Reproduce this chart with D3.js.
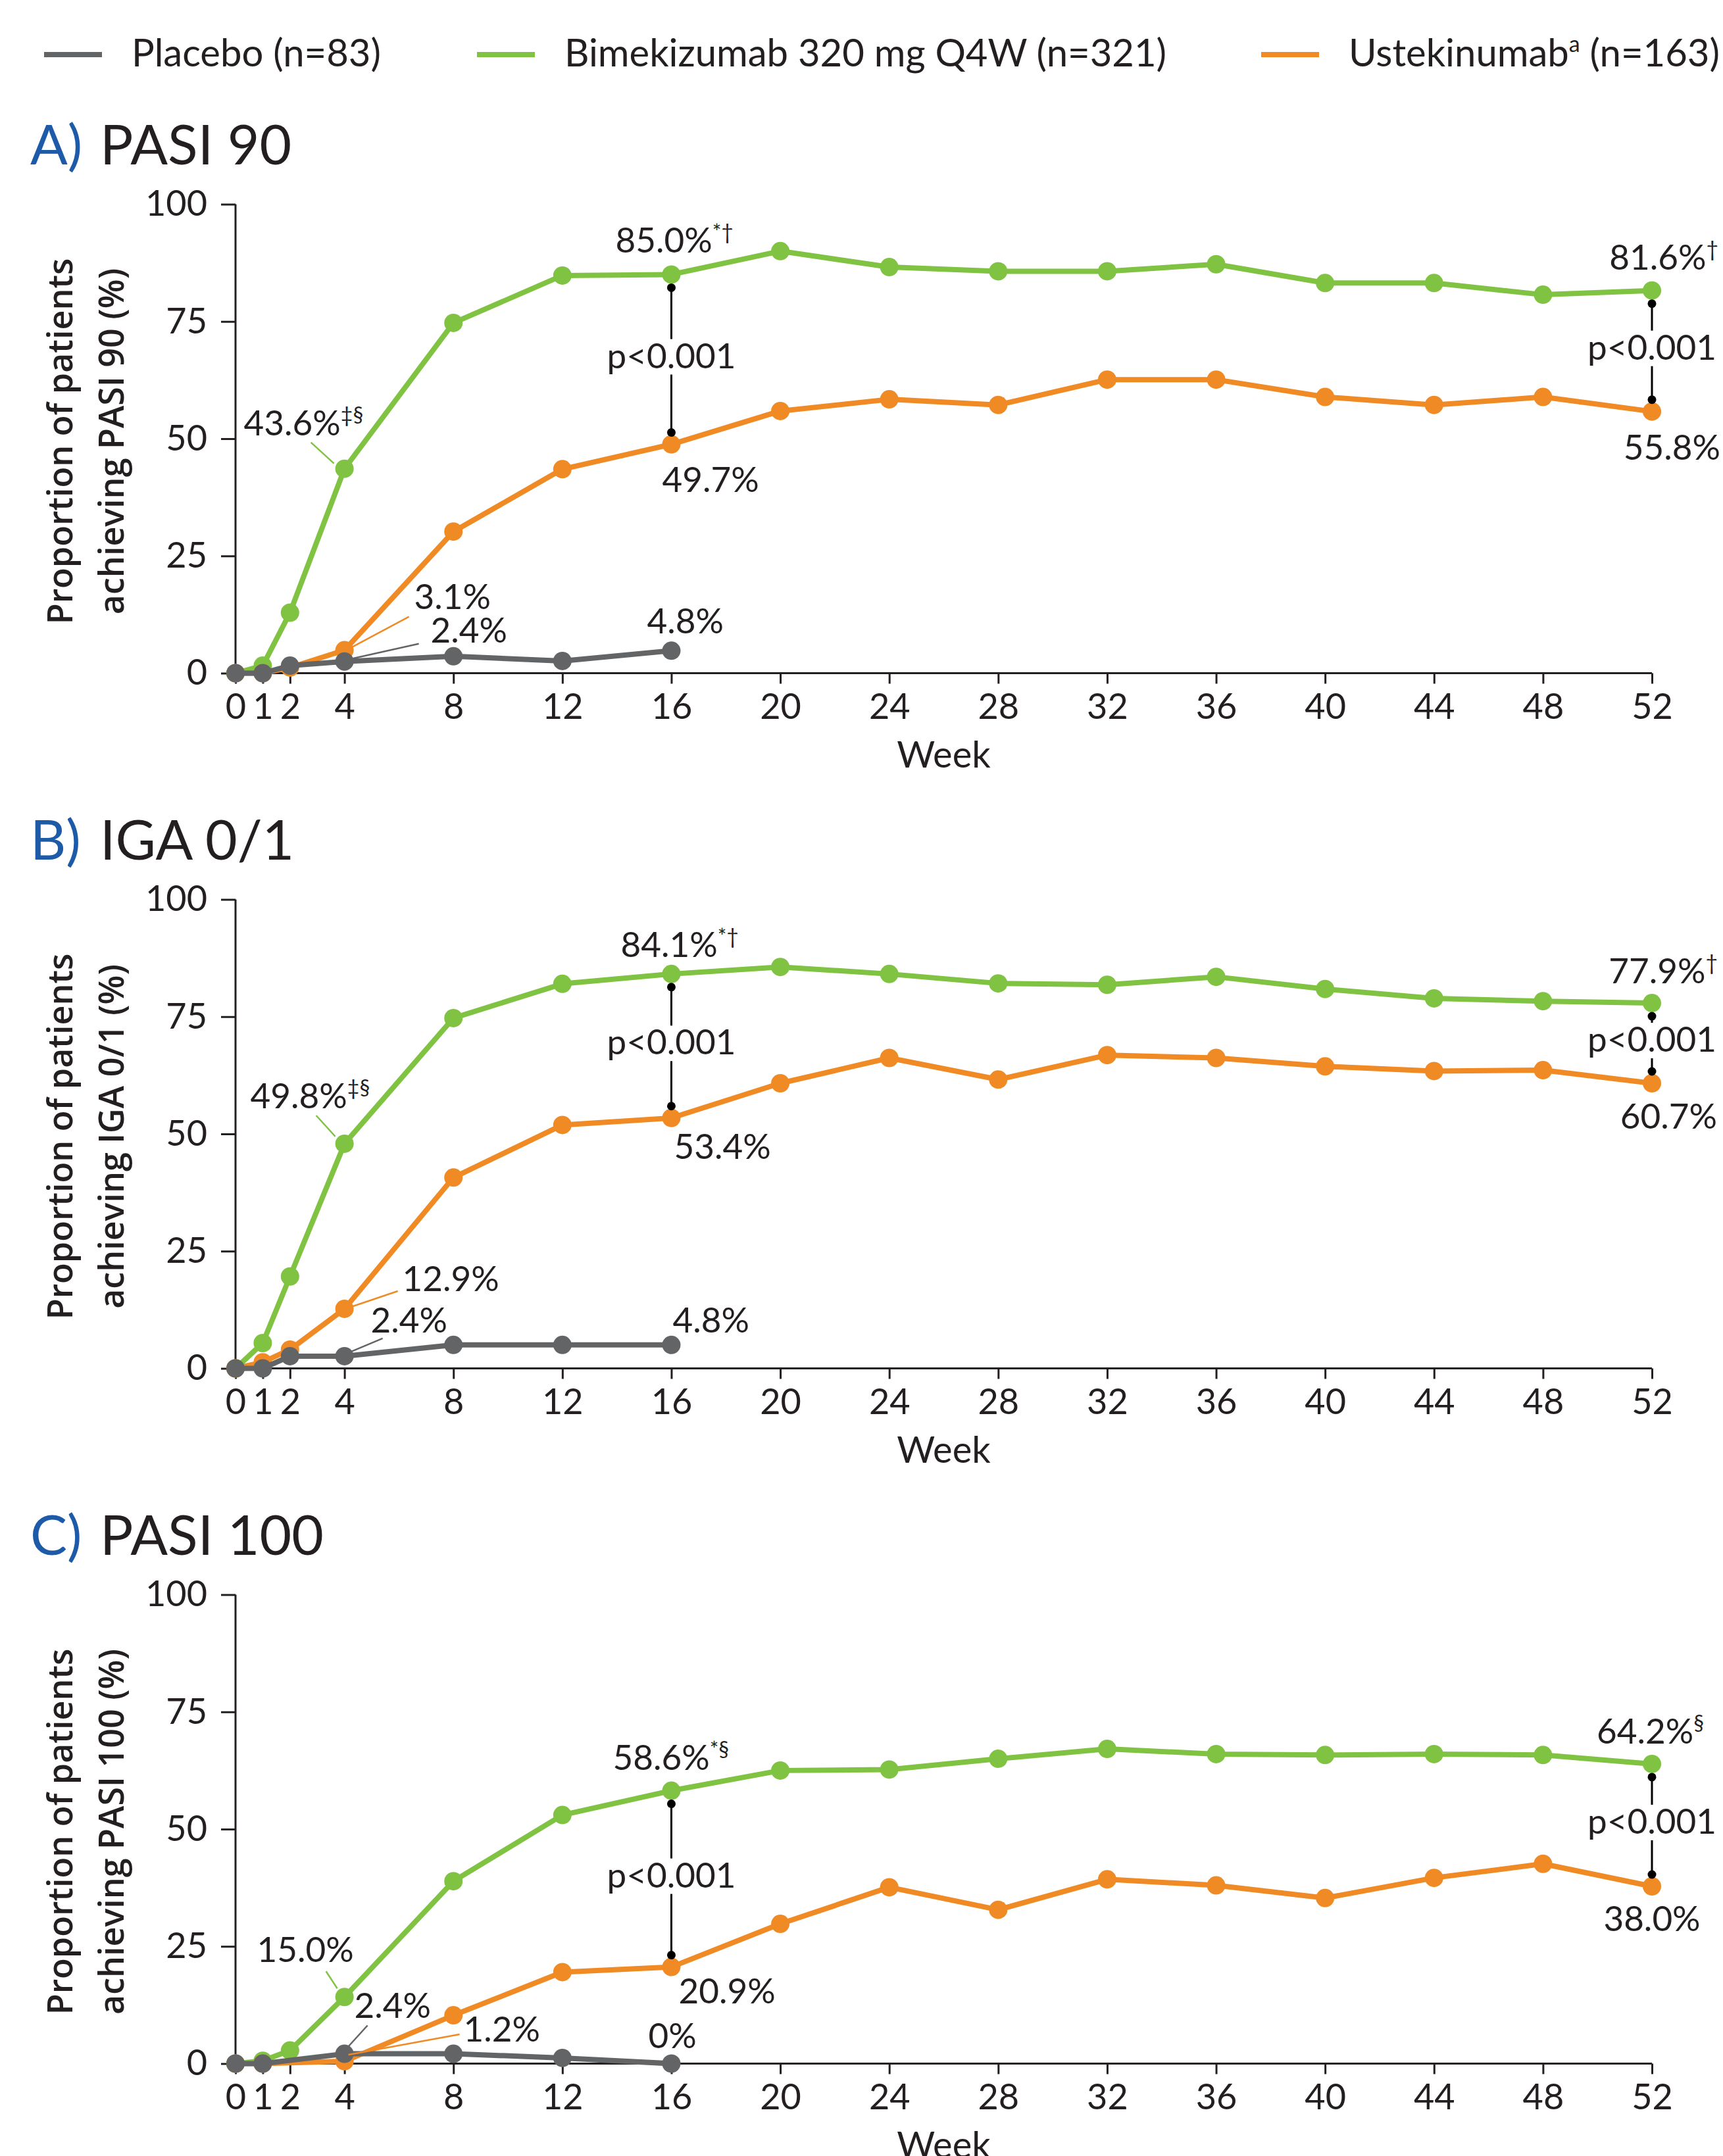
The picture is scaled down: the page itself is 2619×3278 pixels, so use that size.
<!DOCTYPE html>
<html>
<head>
<meta charset="utf-8">
<script src="https://cdn.jsdelivr.net/npm/d3@7/dist/d3.min.js"></script>
<style>
  body { margin: 0; background: #fff; }
  svg { display: block; font-family: Lato, 'Open Sans', sans-serif; }
</style>
</head>
<body>
<div id="chart"></div>
<script>
const weeks = [0, 1, 2, 4, 8, 12, 16, 20, 24, 28, 32, 36, 40, 44, 48, 52];
const yTicks = [0, 25, 50, 75, 100];

// Placebo only runs to week 16; null = no visit plotted
const pasi90Placebo = [0, 0, 1.6, 2.5, 3.6, 2.6, 4.8];
const pasi90Bime = [0, 1.6, 12.9, 43.6, 74.7, 84.8, 85.0, 90.0, 86.6, 85.7, 85.7, 87.2, 83.2, 83.2, 80.7, 81.6];
const pasi90Uste = [0, 0, 1.2, 4.9, 30.2, 43.5, 48.8, 55.9, 58.4, 57.2, 62.6, 62.6, 58.9, 57.2, 58.9, 55.8];

const igaPlacebo = [0, 0, 2.6, 2.6, 5.0, 5.0, 5.0];
const igaBime = [0, 5.4, 19.6, 47.9, 74.7, 82.0, 84.1, 85.6, 84.1, 82.1, 81.8, 83.5, 80.9, 78.9, 78.3, 77.9];
const igaUste = [0, 1.3, 4.0, 12.7, 40.7, 51.9, 53.4, 60.8, 66.2, 61.6, 66.8, 66.2, 64.4, 63.4, 63.6, 60.8];

const pasi100Placebo = [0, 0, null, 2.1, 2.1, 1.2, 0];
const pasi100Bime = [0, 0.6, 2.8, 14.2, 38.9, 53.0, 58.2, 62.5, 62.7, 65.0, 67.1, 66.0, 65.8, 66.0, 65.8, 63.9];
const pasi100Uste = [0, 0, null, 0.5, 10.3, 19.5, 20.6, 29.8, 37.6, 32.8, 39.3, 38.0, 35.3, 39.6, 42.6, 37.8];

const legendLabels = ['Placebo (n=83)', 'Bimekizumab 320 mg Q4W (n=321)', 'Ustekinumab'];

const colors = { placebo: '#636466', bime: '#80c342', uste: '#f08a24' };
const ink = '#231f20';

const W = 2619, H = 3278;
const x0 = 358, x1 = 2511;
const panelTop = 310.5, plotH = 713, panelStep = 1057;

// annotation layout: offsets are relative to the marker they describe
const panels = [
  {
    letter: 'A)', title: 'PASI 90', yLabel: ['Proportion of patients', 'achieving PASI 90 (%)'],
    data: { bime: pasi90Bime, uste: pasi90Uste, placebo: pasi90Placebo },
    notes: [
      { s: 'bime', w: 4, t: '43.6%', sup: '‡§', dx: -153, dy: -51, leader: [-51, -40, -16, -8] },
      { s: 'uste', w: 4, t: '3.1%', dx: 106, dy: -63, leader: [98, -51, 10, -4] },
      { s: 'placebo', w: 4, t: '2.4%', dx: 131, dy: -29, leader: [113, -27, 10, -4] },
      { s: 'bime', w: 16, t: '85.0%', sup: '*†', dx: -85, dy: -33 },
      { s: 'uste', w: 16, t: '49.7%', dx: -14, dy: 72 },
      { s: 'placebo', w: 16, t: '4.8%', dx: -37, dy: -26 },
      { s: 'bime', w: 52, t: '81.6%', sup: '†', dx: 101, dy: -32, anchor: 'end' },
      { s: 'uste', w: 52, t: '55.8%', dx: 104, dy: 73, anchor: 'end' }
    ],
    pvals: [16, 52]
  },
  {
    letter: 'B)', title: 'IGA 0/1', yLabel: ['Proportion of patients', 'achieving IGA 0/1 (%)'],
    data: { bime: igaBime, uste: igaUste, placebo: igaPlacebo },
    notes: [
      { s: 'bime', w: 4, t: '49.8%', sup: '‡§', dx: -143, dy: -54, leader: [-43, -43, -14, -11] },
      { s: 'uste', w: 4, t: '12.9%', dx: 88, dy: -27, leader: [81, -27, 10, -3] },
      { s: 'placebo', w: 4, t: '2.4%', dx: 40, dy: -36, leader: [58, -27, 8, -6] },
      { s: 'bime', w: 16, t: '84.1%', sup: '*†', dx: -77, dy: -26 },
      { s: 'uste', w: 16, t: '53.4%', dx: 4, dy: 62 },
      { s: 'placebo', w: 16, t: '4.8%', dx: 2, dy: -19 },
      { s: 'bime', w: 52, t: '77.9%', sup: '†', dx: 100, dy: -30, anchor: 'end' },
      { s: 'uste', w: 52, t: '60.7%', dx: 99, dy: 69, anchor: 'end' }
    ],
    pvals: [16, 52]
  },
  {
    letter: 'C)', title: 'PASI 100', yLabel: ['Proportion of patients', 'achieving PASI 100 (%)'],
    data: { bime: pasi100Bime, uste: pasi100Uste, placebo: pasi100Placebo },
    notes: [
      { s: 'bime', w: 4, t: '15.0%', dx: -133, dy: -53, leader: [-28, -39, -11, -13] },
      { s: 'placebo', w: 4, t: '2.4%', dx: 15, dy: -55, leader: [35, -43, 5, -10] },
      { s: 'uste', w: 4, t: '1.2%', dx: 181, dy: -30, leader: [175, -41, 6, -10] },
      { s: 'bime', w: 16, t: '58.6%', sup: '*§', dx: -89, dy: -32 },
      { s: 'uste', w: 16, t: '20.9%', dx: 11, dy: 55 },
      { s: 'placebo', w: 16, t: '0%', dx: -35, dy: -24 },
      { s: 'bime', w: 52, t: '64.2%', sup: '§', dx: -84, dy: -31 },
      { s: 'uste', w: 52, t: '38.0%', dx: 0, dy: 68, anchor: 'middle' }
    ],
    pvals: [16, 52]
  }
];

const svg = d3.select('#chart').append('svg')
  .attr('width', W).attr('height', H)
  .attr('viewBox', `0 0 ${W} ${H}`);

svg.append('rect').attr('width', W).attr('height', H).attr('fill', '#fff');

const x = d3.scaleLinear().domain([0, 52]).range([x0, x1]);

// legend
const legendPos = [[67, 200], [725, 858], [1917, 2050]];
['placebo', 'bime', 'uste'].forEach((k, i) => {
  const [sx, tx] = legendPos[i];
  svg.append('rect').attr('x', sx).attr('y', 79).attr('width', 88).attr('height', 8).attr('fill', colors[k]);
  const t = svg.append('text').attr('x', tx).attr('y', 101)
    .attr('font-size', 58).attr('fill', ink).text(legendLabels[i]);
  if (k === 'uste') {
    t.append('tspan').attr('font-size', 34).attr('dy', -22).text('a');
    t.append('tspan').attr('dy', 22).text(' (n=163)');
  }
});

function seriesPoints(values) {
  return values.map((v, i) => ({ w: weeks[i], v })).filter(d => d.v !== null);
}

panels.forEach((p, pi) => {
  const top = panelTop + pi * panelStep;
  const bottom = top + plotH;
  const y = d3.scaleLinear().domain([0, 100]).range([bottom, top]);
  const g = svg.append('g');

  // title
  g.append('text').attr('x', 46).attr('y', 250 + pi * panelStep)
    .attr('font-size', 84).attr('fill', '#1d5aa8').text(p.letter);
  g.append('text').attr('x', 152).attr('y', 250 + pi * panelStep)
    .attr('font-size', 84).attr('fill', ink).text(p.title);

  // axes
  const xAxis = g.append('g').attr('transform', `translate(0,${bottom})`)
    .call(d3.axisBottom(x).tickValues(weeks).tickFormat(d3.format('d')).tickSize(16).tickPadding(15));
  const yAxis = g.append('g').attr('transform', `translate(${x0},0)`)
    .call(d3.axisLeft(y).tickValues(yTicks).tickSize(22).tickPadding(21));
  [xAxis, yAxis].forEach(a => {
    a.select('.domain').attr('stroke', ink).attr('stroke-width', 3);
    a.selectAll('.tick line').attr('stroke', ink).attr('stroke-width', 3);
    a.selectAll('.tick text').attr('font-size', 54).attr('fill', ink).attr('font-family', 'Lato');
  });
  xAxis.select('.domain').attr('d', `M${x0},0H${x1}`);
  yAxis.select('.domain').attr('d', `M0,${y(100)}V${y(0)}`);

  g.append('text').attr('x', (x0 + x1) / 2).attr('y', bottom + 143)
    .attr('text-anchor', 'middle').attr('font-size', 56).attr('fill', ink).text('Week');

  const mid = (top + bottom) / 2 + 4;
  p.yLabel.forEach((line, li) => {
    g.append('text')
      .attr('transform', `translate(${li === 0 ? 110 : 188},${mid}) rotate(-90)`)
      .attr('text-anchor', 'middle')
      .attr('font-family', "'Open Sans', sans-serif")
      .attr('font-weight', 600)
      .attr('font-size', 52)
      .attr('fill', ink)
      .text(line);
  });

  // series: green, orange, then placebo on top
  const line = d3.line().x(d => x(d.w)).y(d => y(d.v));
  ['bime', 'uste', 'placebo'].forEach(k => {
    const pts = seriesPoints(p.data[k]);
    g.append('path').datum(pts).attr('d', line)
      .attr('fill', 'none').attr('stroke', colors[k]).attr('stroke-width', 8)
      .attr('stroke-linejoin', 'round');
    g.selectAll(null).data(pts).enter().append('circle')
      .attr('cx', d => x(d.w)).attr('cy', d => y(d.v)).attr('r', 14)
      .attr('fill', colors[k]);
  });

  const valueAt = (k, w) => p.data[k][weeks.indexOf(w)];

  // value labels
  p.notes.forEach(n => {
    const mx = x(n.w), my = y(valueAt(n.s, n.w));
    if (n.leader) {
      const [a, b, c, d] = n.leader;
      g.append('line').attr('x1', mx + a).attr('y1', my + b).attr('x2', mx + c).attr('y2', my + d)
        .attr('stroke', colors[n.s]).attr('stroke-width', 2.5);
    }
    const t = g.append('text').attr('x', mx + n.dx).attr('y', my + n.dy)
      .attr('font-size', 53).attr('fill', ink)
      .attr('text-anchor', n.anchor || 'start').text(n.t);
    if (n.sup) t.append('tspan').attr('font-size', 32).attr('dy', -20).text(n.sup);
  });

  // significance brackets
  p.pvals.forEach(w => {
    const bx = x(w);
    const yTop = y(valueAt('bime', w)) + 20;
    const yBot = y(valueAt('uste', w)) - 18;
    const base = (yTop + yBot) / 2 + 12;
    g.append('line').attr('x1', bx).attr('x2', bx).attr('y1', yTop).attr('y2', base - 44)
      .attr('stroke', '#000').attr('stroke-width', 3);
    g.append('line').attr('x1', bx).attr('x2', bx).attr('y1', base + 10).attr('y2', yBot)
      .attr('stroke', '#000').attr('stroke-width', 3);
    [yTop, yBot].forEach(cy => g.append('circle').attr('cx', bx).attr('cy', cy).attr('r', 6.5).attr('fill', '#000'));
    g.append('text').attr('x', bx).attr('y', base).attr('text-anchor', 'middle')
      .attr('font-size', 53).attr('fill', ink).text('p<0.001');
  });
});
</script>
</body>
</html>
